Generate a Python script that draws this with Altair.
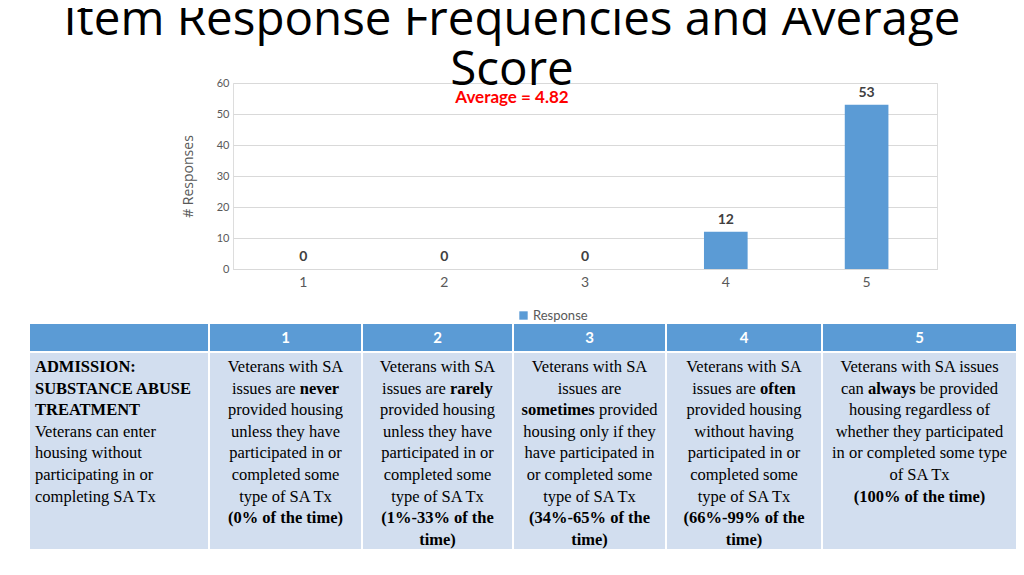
import altair as alt
import pandas as pd

# ---------------- data ----------------
CATEGORIES = ["1", "2", "3", "4", "5"]
COUNTS = [0, 0, 0, 12, 53]
SERIES = "Response"
Y_TICKS = [0, 10, 20, 30, 40, 50, 60]
TITLE_LINES = ["Item Response Frequencies and Average", "Score"]
AVERAGE_LABEL = "Average = 4.82"
Y_TITLE = "# Responses"

HEADER_LABELS = ["", "1", "2", "3", "4", "5"]
COL0_TEXT = ["**ADMISSION:**", "**SUBSTANCE ABUSE**", "**TREATMENT**",
             "Veterans can enter", "housing without", "participating in or",
             "completing SA Tx"]
COL1_TEXT = ["Veterans with SA", "issues are **never**", "provided housing",
             "unless they have", "participated in or", "completed some",
             "type of SA Tx", "**(0% of the time)**"]
COL2_TEXT = ["Veterans with SA", "issues are **rarely**", "provided housing",
             "unless they have", "participated in or", "completed some",
             "type of SA Tx", "**(1%-33% of the**", "**time)**"]
COL3_TEXT = ["Veterans with SA", "issues are", "**sometimes** provided",
             "housing only if they", "have participated in",
             "or completed some", "type of SA Tx", "**(34%-65% of the**",
             "**time)**"]
COL4_TEXT = ["Veterans with SA", "issues are **often**", "provided housing",
             "without having", "participated in or", "completed some",
             "type of SA Tx", "**(66%-99% of the**", "**time)**"]
COL5_TEXT = ["Veterans with SA issues", "can **always** be provided",
             "housing regardless of", "whether they participated",
             "in or completed some type", "of SA Tx", "**(100% of the time)**"]
BODY_TEXT = [COL0_TEXT, COL1_TEXT, COL2_TEXT, COL3_TEXT, COL4_TEXT, COL5_TEXT]

# ---------------- layout / style ----------------
BLUE = "#5B9BD5"
BODY_FILL = "#D2DEEF"
GRID = "#D9D9D9"
AXIS_TXT = "#595959"
PLOT_W, PLOT_H = 704, 186
PAD = {"left": 225, "top": 75, "right": 79, "bottom": 298}

TABLE_COL_EDGES = [0, 180, 333, 484, 637, 793, 988]   # table units (px)
TABLE_HEADER_H = 29
TABLE_TOTAL_H = 227
TABLE_X_RANGE = [-204, 784]     # relative to plot origin
TABLE_Y_RANGE = [240, 467]
LINE_START, LINE_STEP = 44, 21.6
LEFT_PAD = 6
BODY_FONT = "Liberation Serif"
BODY_SIZE = 16.5

# Times-like glyph widths (per 1000 em) for centring mixed-weight lines
REG_W = dict(zip(" ()%-:abcdefghijklmnopqrstuvwxyz",
                 [250, 333, 333, 833, 333, 278, 444, 500, 444, 500, 444, 333,
                  500, 500, 278, 278, 500, 278, 778, 500, 500, 500, 500, 333,
                  389, 278, 500, 500, 722, 500, 500, 444]))
BOLD_W = dict(zip(" ()%-:abcdefghijklmnopqrstuvwxyz",
                  [250, 333, 333, 1000, 333, 333, 500, 556, 444, 556, 444, 333,
                   500, 556, 278, 333, 556, 278, 833, 556, 500, 556, 556, 444,
                   389, 333, 556, 500, 722, 500, 500, 444]))


def seg_width(s, bold):
    table = BOLD_W if bold else REG_W
    return sum(table.get(ch, 600 if ch.isupper() else 500) for ch in s) / 1000 * BODY_SIZE


rows = []
for c, lines in enumerate(BODY_TEXT):
    left, right = TABLE_COL_EDGES[c], TABLE_COL_EDGES[c + 1]
    center = (left + right) / 2
    for i, line in enumerate(lines):
        parts = line.split("**")
        segs = [(p, k % 2 == 1) for k, p in enumerate(parts) if p != ""]
        y = LINE_START + LINE_STEP * i
        if c == 0:
            for s, b in segs:
                rows.append(dict(t=s.strip(), x=left + LEFT_PAD, y=y, bold=b, align="left"))
        elif len(segs) == 1:
            s, b = segs[0]
            rows.append(dict(t=s.strip(), x=center, y=y, bold=b, align="center"))
        else:
            total = sum(seg_width(s, b) for s, b in segs)
            cur = center - total / 2
            for s, b in segs:
                lead = len(s) - len(s.lstrip())
                rows.append(dict(t=s.strip(), x=cur + lead * REG_W[" "] / 1000 * BODY_SIZE,
                                 y=y, bold=b, align="left"))
                cur += seg_width(s, b)
text_df = pd.DataFrame(rows)

cells = []
for c in range(len(HEADER_LABELS)):
    l, r = TABLE_COL_EDGES[c], TABLE_COL_EDGES[c + 1]
    cells.append(dict(x=l, x2=r, y=0, y2=TABLE_HEADER_H, part="header",
                      label=HEADER_LABELS[c], cx=(l + r) / 2, cy=TABLE_HEADER_H / 2))
    cells.append(dict(x=l, x2=r, y=TABLE_HEADER_H, y2=TABLE_TOTAL_H, part="body",
                      label="", cx=(l + r) / 2, cy=0))
cells_df = pd.DataFrame(cells)

bar_df = pd.DataFrame({"cat": CATEGORIES, "n": COUNTS, "series": SERIES})

# ---------------- bar chart ----------------
xb = alt.X("cat:N", sort=CATEGORIES,
           scale=alt.Scale(paddingInner=0.69, paddingOuter=0.345),
           axis=alt.Axis(title=None, labelAngle=0, labelFont="Lato", labelFontSize=14,
                         labelColor=AXIS_TXT, labelPadding=6, ticks=False,
                         domain=True, domainColor=GRID, grid=False))
yb = alt.Y("n:Q", scale=alt.Scale(domain=[0, 60], nice=False),
           axis=alt.Axis(title=Y_TITLE, values=Y_TICKS, tickCount=7, titleFont="Open Sans",
                         titleFontSize=14, titleFontWeight="normal", titleColor=AXIS_TXT,
                         titlePadding=21, labelFont="Lato", labelFontSize=11,
                         labelColor=AXIS_TXT, labelPadding=4, ticks=False,
                         labelOverlap=False, domain=False, grid=True,
                         gridColor=GRID, gridWidth=1))

bars = alt.Chart(bar_df).mark_bar().encode(
    x=xb, y=yb,
    color=alt.Color("series:N", scale=alt.Scale(domain=[SERIES], range=[BLUE]),
                    legend=alt.Legend(title=None, orient="none", legendX=284, legendY=226,
                                      symbolType="square", symbolSize=70,
                                      labelFont="Lato", labelFontSize=13,
                                      labelColor=AXIS_TXT, padding=0, labelOffset=3)))
bar_labels = alt.Chart(bar_df).mark_text(
    font="Lato", fontSize=14, fontWeight="bold", color="#404040", dy=-12,
    baseline="middle").encode(x=xb, y=yb, text="n:Q")
bar_part = alt.layer(bars, bar_labels)

# ---------------- table ----------------
tx = alt.Scale(domain=[TABLE_COL_EDGES[0], TABLE_COL_EDGES[-1]], range=TABLE_X_RANGE, nice=False, zero=False)
ty = alt.Scale(domain=[0, TABLE_TOTAL_H], range=TABLE_Y_RANGE, nice=False, zero=False)

header_rects = alt.Chart(cells_df).transform_filter(alt.datum.part == "header").mark_rect(
    fill=BLUE, stroke="white", strokeWidth=2).encode(
    x=alt.X("x:Q", scale=tx, axis=None), x2="x2:Q",
    y=alt.Y("y:Q", scale=ty, axis=None), y2="y2:Q")
body_rects = alt.Chart(cells_df).transform_filter(alt.datum.part == "body").mark_rect(
    fill=BODY_FILL, stroke="white", strokeWidth=2).encode(
    x=alt.X("x:Q", scale=tx, axis=None), x2="x2:Q",
    y=alt.Y("y:Q", scale=ty, axis=None), y2="y2:Q")
header_text = alt.Chart(cells_df).transform_filter(alt.datum.part == "header").mark_text(
    font="Lato", fontSize=15, fontWeight="bold", color="white", baseline="middle").encode(
    x=alt.X("cx:Q", scale=tx, axis=None), y=alt.Y("cy:Q", scale=ty, axis=None),
    text="label:N")


def body_layer(bold, align):
    return alt.Chart(text_df).transform_filter(
        (alt.datum.bold == bold) & (alt.datum.align == align)).mark_text(
        font=BODY_FONT, fontSize=BODY_SIZE, fontWeight="bold" if bold else "normal",
        color="black", align=align, baseline="middle").encode(
        x=alt.X("x:Q", scale=tx, axis=None), y=alt.Y("y:Q", scale=ty, axis=None),
        text="t:N")


table_part = alt.layer(header_rects, body_rects, header_text,
                       body_layer(False, "center"), body_layer(True, "center"),
                       body_layer(False, "left"), body_layer(True, "left"))

chart = alt.layer(bar_part, table_part).resolve_scale(
    x="independent", y="independent").properties(
    width=PLOT_W, height=PLOT_H,
    autosize=alt.AutoSizeParams(type="none"),
    padding=PAD,
    title=alt.TitleParams(
        text=TITLE_LINES, subtitle=AVERAGE_LABEL, font="Open Sans", fontSize=47.5,
        fontWeight="normal", color="black", lineHeight=50, anchor="middle",
        frame="group", dx=-73, dy=29, offset=0,
        subtitleFont="Lato", subtitleFontSize=17, subtitleFontWeight="bold",
        subtitleColor="#FF0000", subtitlePadding=-4)
).configure_view(stroke=None).configure(background="white")

chart.save("out.html", embed_options={"renderer": "svg", "actions": False})
